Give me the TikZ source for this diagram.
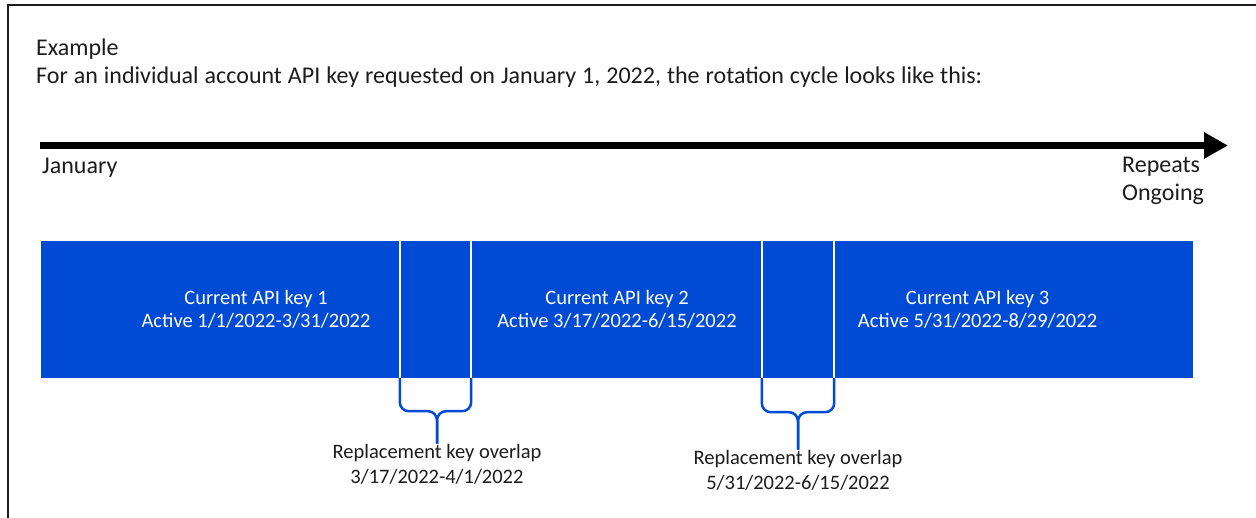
\documentclass[tikz,border=0pt]{standalone}
\usepackage{fontspec}
\setmainfont{Carlito}
\usetikzlibrary{arrows.meta}
\definecolor{keyblue}{RGB}{0,75,214}
\definecolor{ink}{RGB}{28,28,28}
\tikzset{
  bigtext/.style={font=\fontsize{24}{27.5}\selectfont, text=ink, inner sep=0pt},
  smalltext/.style={font=\fontsize{20.5}{25}\selectfont, inner sep=0pt, align=center},
  keybox/.style={fill=keyblue, draw=none, minimum height=137pt, inner sep=0pt,
    font=\fontsize{20.5}{23}\selectfont, text=white, align=center},
  sepline/.style={draw=white, line width=2.5pt},
  brace/.style={draw=keyblue, line width=2.5pt, rounded corners=9pt},
}
\begin{document}
\begin{tikzpicture}[x=1pt,y=-1pt]
\useasboundingbox (0,0) rectangle (1256,517);
% frame
\draw[line width=2.5pt, ink] (8,540) -- (8,5) -- (1280,5);
% heading
\node[bigtext, anchor=base west] (ex) at (36,55) {Example};
\node[bigtext, anchor=base west] (intro) at (36,83) {\spaceskip=0.25em plus 0.1em For an individual account API key requested on January 1, 2022, the rotation cycle looks like this:};
% timeline
\coordinate (t0) at (40,145.5);
\coordinate (t1) at (1228,145.5);
\draw[line width=7pt, -{Triangle[length=24pt,width=25pt]}] (t0) -- (t1);
\node[bigtext, anchor=base west] (jan) at (42,173) {January};
\node[bigtext, anchor=base west, align=left] (rep) at (1122,200) {Repeats\\Ongoing};
% keys
\node[keybox, minimum width=430pt] (k1) at (256,309.5) {Current API key 1\\Active 1/1/2022-3/31/2022};
\node[keybox, minimum width=434pt] (k2) at (617,309.5) {Current API key 2\\Active 3/17/2022-6/15/2022};
\node[keybox, minimum width=431pt] (k3) at (977.5,309.5) {Current API key 3\\Active 5/31/2022-8/29/2022};
\draw[sepline] (k2.north west) -- (k2.south west);
\draw[sepline] (k1.north east) -- (k1.south east);
\draw[sepline] (k3.north west) -- (k3.south west);
\draw[sepline] (k2.north east) -- (k2.south east);
% overlap labels
\node[smalltext, text=ink, anchor=base] (ov1) at (437,483) {Replacement key overlap\\3/17/2022-4/1/2022};
\node[smalltext, text=ink, anchor=base] (ov2) at (798,489) {Replacement key overlap\\5/31/2022-6/15/2022};
% braces
\draw[brace] (k2.south west) -- ++(0,33) -| (ov1.north);
\draw[brace] (k1.south east) -- ++(0,33) -| (ov1.north);
\draw[brace] (k3.south west) -- ++(0,34) -| (ov2.north);
\draw[brace] (k2.south east) -- ++(0,34) -| (ov2.north);
\end{tikzpicture}
\end{document}
